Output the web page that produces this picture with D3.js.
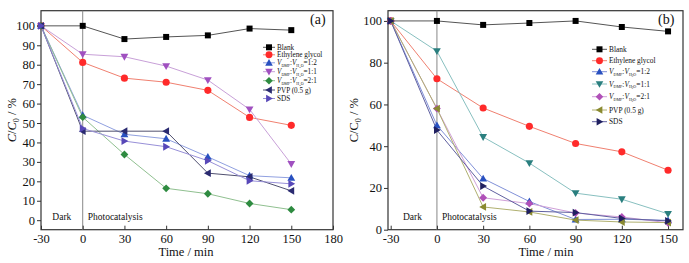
<!DOCTYPE html>
<html><head><meta charset="utf-8">
<script src="https://cdn.jsdelivr.net/npm/d3@7"></script>
<style>body{margin:0;background:#fff}svg{display:block}text{font-family:"Liberation Serif","DejaVu Serif",serif}</style>
</head><body><svg id="c" width="689" height="263"></svg>
<script>
// ---- data ----
const times = [-30, 0, 30, 60, 90, 120, 150];
const seriesKeys = ["Blank", "Ethylene glycol", "1:2", "1:1", "2:1", "PVP (0.5 g)", "SDS"];
// chart (a)
const aBlank  = [100, 100, 93.2, 94.3, 95.1, 98.6, 97.8];
const aEG     = [100, 81.2, 73.1, 71.0, 66.8, 52.9, 48.8];
const aV12    = [100, 54.0, 44.2, 41.9, 32.6, 22.9, 21.8];
const aV11    = [100, 85.4, 84.1, 79.3, 72.1, 57.0, 28.9];
const aV21    = [100, 53.0, 33.8, 16.4, 13.6, 8.6, 5.4];
const aPVP    = [100, 45.8, 45.8, 45.8, 24.2, 22.3, 15.1];
const aSDS    = [100, 47.2, 40.7, 37.8, 30.6, 20.3, 18.7];
// chart (b)
const bBlank  = [100, 100, 98.1, 99.0, 100, 97.1, 95.0];
const bEG     = [100, 72.3, 58.3, 49.5, 41.3, 37.3, 28.5];
const bV12    = [100, 50.0, 24.5, 13.5, 4.9, 5.0, 4.5];
const bV11    = [100, 85.5, 44.4, 31.9, 17.5, 14.6, 7.6];
const bV21    = [100, 58.0, 15.3, 12.5, 8.0, 6.1, 3.3];
const bPVP    = [100, 58.0, 10.9, 8.5, 4.6, 3.7, 3.4];
const bSDS    = [100, 47.7, 20.9, 8.9, 8.2, 5.4, 4.2];
const aTicksX = [-30, 0, 30, 60, 90, 120, 150, 180];
const bTicksX = [-30, 0, 30, 60, 90, 120, 150];
const aTicksY = [0, 10, 20, 30, 40, 50, 60, 70, 80, 90, 100];
const bTicksY = [0, 20, 40, 60, 80, 100];

// ---- styles ----
const shapes = ["square", "circle", "up", "down", "diamond", "left", "right"];
const aMarker = ["#000000", "#ff2a2a", "#2850c0", "#a050c0", "#2e8b40", "#2a2a70", "#5848b8"];
const aLine   = ["#555555", "#f08070", "#90a0e0", "#c8a0d8", "#90c090", "#505070", "#9890d8"];
const bMarker = ["#000000", "#ff2a2a", "#2850c0", "#2a7f7f", "#b050b8", "#8a8a30", "#202060"];
const bLine   = ["#555555", "#f08070", "#8090d8", "#88c0c0", "#d0a0d8", "#b0b070", "#6060a0"];

function shapePath(s, r) {
  const t = r * 1.15;
  switch (s) {
    case "square": return `M${-r},${-r}H${r}V${r}H${-r}Z`;
    case "circle": return d3.symbol(d3.symbolCircle, Math.PI * r * r * 1.1)();
    case "up": return `M0,${-t}L${t},${t*0.75}L${-t},${t*0.75}Z`;
    case "down": return `M0,${t}L${t},${-t*0.75}L${-t},${-t*0.75}Z`;
    case "left": return `M${-t},0L${t*0.75},${-t}L${t*0.75},${t}Z`;
    case "right": return `M${t},0L${-t*0.75},${-t}L${-t*0.75},${t}Z`;
    case "diamond": return `M0,${-t}L${t},0L0,${t}L${-t},0Z`;
  }
}

const svg = d3.select("#c");

function vLabel(txt, ratio, fs) {
  txt.append("tspan").attr("font-style", "italic").text("V");
  txt.append("tspan").attr("font-size", fs * 0.55).attr("dy", 1.5).text("DMF");
  txt.append("tspan").attr("dy", -1.5).text(":");
  txt.append("tspan").attr("font-style", "italic").text("V");
  txt.append("tspan").attr("font-size", fs * 0.55).attr("dy", 1.5).text("H");
  txt.append("tspan").attr("font-size", fs * 0.4).attr("dy", 0.8).text("2");
  txt.append("tspan").attr("font-size", fs * 0.55).attr("dy", -0.8).text("O");
  txt.append("tspan").attr("dy", -1.5).text("=" + ratio);
}

function drawChart(cfg) {
  const g = svg.append("g");
  const x = d3.scaleLinear().domain(cfg.xDomain).range([cfg.left, cfg.right]);
  const y = d3.scaleLinear().domain(cfg.yDomain).range([cfg.bottom, cfg.top]);

  // frame
  g.append("rect").attr("x", cfg.left).attr("y", cfg.top)
    .attr("width", cfg.right - cfg.left).attr("height", cfg.bottom - cfg.top)
    .attr("fill", "none").attr("stroke", "#333").attr("stroke-width", 1.2);

  // vertical line at 0
  g.append("line").attr("x1", x(0)).attr("x2", x(0)).attr("y1", cfg.top).attr("y2", cfg.bottom)
    .attr("stroke", "#888").attr("stroke-width", 1);

  // axes
  const fmt = d => String(d);
  const ax = d3.axisBottom(x).tickValues(cfg.xTicks).tickSizeInner(-4).tickSizeOuter(0).tickPadding(4).tickFormat(fmt);
  const gx = g.append("g").attr("transform", `translate(0,${cfg.bottom})`).call(ax);
  const ay = d3.axisLeft(y).tickValues(cfg.yTicks).tickSizeInner(4).tickSizeOuter(0).tickPadding(2).tickFormat(fmt);
  const gy = g.append("g").attr("transform", `translate(${cfg.left},0)`).call(ay);
  [gx, gy].forEach(a => {
    a.select(".domain").remove();
    a.selectAll("line").attr("stroke", "#333").attr("stroke-width", 1);
    a.selectAll("text").attr("font-size", 12.5).attr("fill", "#111")
      .attr("font-family", '"Liberation Serif", serif');
  });
  gx.selectAll("text").attr("dy", "0.71em");

  // titles
  g.append("text").attr("x", cfg.xTitleX).attr("y", 256).attr("text-anchor", "middle")
    .attr("font-size", 12.5).attr("fill", "#111").text("Time / min");
  const yt = g.append("text").attr("transform", `translate(${cfg.yTitleX},${(cfg.top + cfg.bottom) / 2}) rotate(-90)`)
    .attr("text-anchor", "middle").attr("font-size", 12.5).attr("fill", "#111");
  yt.append("tspan").attr("font-style", cfg.italicC ? "italic" : "normal").text("C");
  yt.append("tspan").text("/");
  yt.append("tspan").attr("font-style", cfg.italicC ? "italic" : "normal").text("C");
  yt.append("tspan").attr("font-size", 8).attr("dy", 3).text("0");
  yt.append("tspan").attr("dy", -3).text(" / %");

  g.append("text").attr("x", cfg.panelX).attr("y", 24).attr("font-size", 14).attr("fill", "#111").text(cfg.panel);

  // phase labels
  g.append("text").attr("x", (x(cfg.xDomain[0]) + x(0)) / 2 + cfg.darkShift).attr("y", 220).attr("text-anchor", "middle")
    .attr("font-size", 9.5).attr("fill", "#111").text("Dark");
  g.append("text").attr("x", x(0) + 5).attr("y", 220)
    .attr("font-size", 9.5).attr("fill", "#111").text("Photocatalysis");

  // series
  const line = d3.line().x((d, i) => x(times[i])).y(d => y(d));
  cfg.series.forEach((vals, k) => {
    g.append("path").attr("d", line(vals)).attr("fill", "none")
      .attr("stroke", cfg.lineColors[k]).attr("stroke-width", 1);
  });
  cfg.series.forEach((vals, k) => {
    g.selectAll(null).data(vals).enter().append("path")
      .attr("transform", (d, i) => `translate(${x(times[i])},${y(d)})`)
      .attr("d", shapePath(shapes[k], shapes[k] === "square" ? 3 : 3.4))
      .attr("fill", cfg.markerColors[k]);
  });

  // legend
  const lg = g.append("g");
  seriesKeys.forEach((key, k) => {
    const ly = cfg.legY[k];
    lg.append("line").attr("x1", cfg.legX).attr("x2", cfg.legX + cfg.legLen).attr("y1", ly).attr("y2", ly)
      .attr("stroke", cfg.lineColors[k]).attr("stroke-width", 1);
    lg.append("path").attr("transform", `translate(${cfg.legX + cfg.legLen / 2},${ly})`)
      .attr("d", shapePath(shapes[k], shapes[k] === "square" ? 3 : 3.3)).attr("fill", cfg.markerColors[k]);
    const t = lg.append("text").attr("x", cfg.legX + cfg.legLen + 2).attr("y", ly + 2.6)
      .attr("font-size", cfg.legFs).attr("fill", "#111");
    if (k >= 2 && k <= 4) vLabel(t, key, cfg.legFs); else t.text(key);
  });
}

drawChart({
  left: 41, right: 333, top: 10.7, bottom: 229.7,
  xDomain: [-30, 180], yDomain: [-4.9, 107.8],
  xTicks: aTicksX, yTicks: aTicksY,
  series: [aBlank, aEG, aV12, aV11, aV21, aPVP, aSDS],
  markerColors: aMarker, lineColors: aLine,
  xTitleX: 186, yTitleX: 16, italicC: true, panel: "(a)", panelX: 310, darkShift: 0,
  legX: 263, legLen: 12, legY: [47.3, 54.8, 62.8, 71.7, 80.7, 90, 98.5], legFs: 7.2
});
drawChart({
  left: 388, right: 683, top: 10.7, bottom: 229.7,
  xDomain: [-31.75, 159.7], yDomain: [0, 104.9],
  xTicks: bTicksX, yTicks: bTicksY,
  series: [bBlank, bEG, bV12, bV11, bV21, bPVP, bSDS],
  markerColors: bMarker, lineColors: bLine,
  xTitleX: 546, yTitleX: 358, italicC: false, panel: "(b)", panelX: 658, darkShift: 0,
  legX: 592, legLen: 15, legY: [49.3, 60.7, 71.7, 84, 96.7, 110, 121.7], legFs: 7.4
});
</script></body></html>
